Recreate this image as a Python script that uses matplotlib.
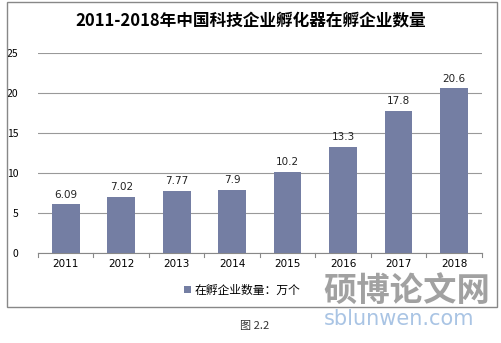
import matplotlib.pyplot as plt
from matplotlib.patches import Rectangle

plt.rcParams['font.family'] = ['Noto Sans CJK SC', 'DejaVu Sans']

# 数据
years = ['2011', '2012', '2013', '2014', '2015', '2016', '2017', '2018']
counts = [6.09, 7.02, 7.77, 7.9, 10.2, 13.3, 17.8, 20.6]
labels = ['6.09', '7.02', '7.77', '7.9', '10.2', '13.3', '17.8', '20.6']

bar_color = '#747ea3'

fig = plt.figure(figsize=(5.02, 3.43), dpi=100)
ax = fig.add_axes([0.0757, 0.262, 0.884, 0.583])

x = range(len(years))
ax.bar(x, counts, width=0.5, color=bar_color, zorder=3, label='在孵企业数量：万个')
for i, (v, t) in enumerate(zip(counts, labels)):
    ax.text(i, v + 0.6, t, ha='center', va='bottom', fontsize=7.5, color='#222222',
            family='DejaVu Sans')

ax.set_ylim(0, 25)
ax.set_xlim(-0.5, len(years) - 0.5)
ax.set_yticks(range(0, 26, 5))
ax.yaxis.grid(True, color='#999999', linewidth=0.8, zorder=0)
ax.set_xticks(list(x))
ax.set_xticklabels(years, family='DejaVu Sans')
ax.tick_params(axis='y', length=0, labelsize=7.5, pad=14)
ax.tick_params(axis='x', length=0, labelsize=7.5, pad=4)
for s in ['top', 'right', 'left']:
    ax.spines[s].set_visible(False)
ax.spines['bottom'].set_color('#888888')
# 类别分隔刻度
for b in [i - 0.5 for i in range(len(years) + 1)]:
    ax.plot([b, b], [0, -0.5], color='#888888', lw=0.8, clip_on=False)

fig.text(0.5, 0.94, '2011-2018年中国科技企业孵化器在孵企业数量', ha='center', va='center',
         fontsize=12, fontweight='bold')

leg = ax.legend(loc='upper center', bbox_to_anchor=(0.46, -0.1), frameon=False,
                fontsize=8.5, handlelength=0.6, handleheight=0.6, handletextpad=0.3)

# 外框
fig.patches.append(Rectangle((7 / 502, 1 - 307 / 343), 490 / 502, 305 / 343,
                             transform=fig.transFigure, fill=False,
                             edgecolor='#888888', lw=1))

fig.text(0.508, 0.05, '图 2.2', ha='center', va='center', fontsize=8, color='#333333')

# 水印
fig.text(0.81, 0.15, '硕博论文网', ha='center', va='center', fontsize=24,
         color='#8a8a8a', alpha=0.8, fontweight='bold')
fig.text(0.795, 0.07, 'sblunwen.com', ha='center', va='center', fontsize=15,
         color='#a9c4e4', family='DejaVu Sans')

fig.savefig('out.png', dpi=100)
